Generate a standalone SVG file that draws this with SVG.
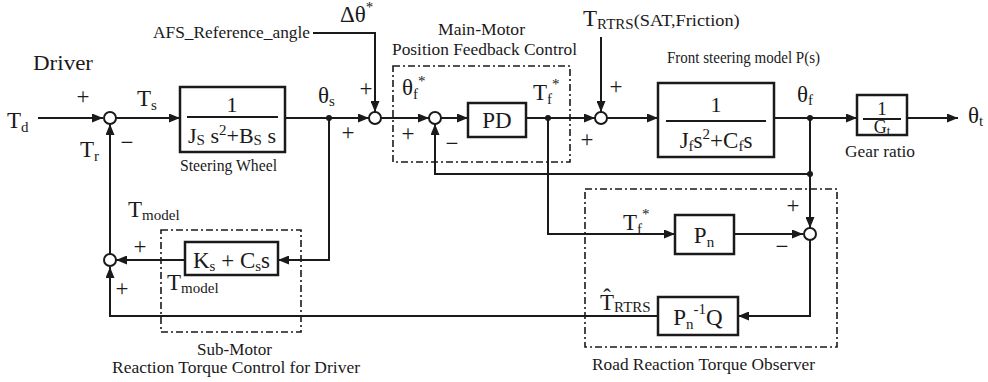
<svg xmlns="http://www.w3.org/2000/svg" width="988" height="382" viewBox="0 0 988 382">
<defs>
<style>
.l{fill:none;stroke:#1a1a1a;stroke-width:2}
.b{fill:#fff;stroke:#1a1a1a;stroke-width:2.5}
.fl{stroke:#1a1a1a;stroke-width:1.8}
.j{fill:#fff;stroke:#1a1a1a;stroke-width:2}
.dot{fill:#1a1a1a}
.d{fill:none;stroke:#1a1a1a;stroke-width:1.6;stroke-dasharray:7 3 2 3}
text{font-family:"Liberation Serif","Times New Roman",serif;fill:#1a1a1a}
.v{font-size:23px}
.s{font-size:15px}
.c{font-size:17px}
.k{font-size:23px}
.m{text-anchor:middle}
</style>
<marker id="ah" markerUnits="userSpaceOnUse" markerWidth="11" markerHeight="9" refX="11" refY="4.5" orient="auto">
<path d="M0,0 L11,4.5 L0,9 z" fill="#1a1a1a"/>
</marker>
</defs>
<rect width="988" height="382" fill="#fff"/>

<g id="connectors">
<path class="l" d="M38,118 H103" marker-end="url(#ah)"/>
<path class="l" d="M116,118 H180" marker-end="url(#ah)"/>
<path class="l" d="M285,118 H369" marker-end="url(#ah)"/>
<path class="l" d="M313,33 H375 V112" marker-end="url(#ah)"/>
<path class="l" d="M381,118 H429" marker-end="url(#ah)"/>
<path class="l" d="M441,118 H468" marker-end="url(#ah)"/>
<path class="l" d="M526,118 H595" marker-end="url(#ah)"/>
<path class="l" d="M601,37 V112" marker-end="url(#ah)"/>
<path class="l" d="M607,118 H658" marker-end="url(#ah)"/>
<path class="l" d="M774,118 H857" marker-end="url(#ah)"/>
<path class="l" d="M907,118 H958" marker-end="url(#ah)"/>
<path class="l" d="M810,118 V174 H435 V124" marker-end="url(#ah)"/>
<path class="l" d="M810,174 V228" marker-end="url(#ah)"/>
<path class="l" d="M548,118 V234 H675" marker-end="url(#ah)"/>
<path class="l" d="M734,234 H803" marker-end="url(#ah)"/>
<path class="l" d="M810,240 V316 H738" marker-end="url(#ah)"/>
<path class="l" d="M658,316 H110 V267" marker-end="url(#ah)"/>
<path class="l" d="M329,118 V260 H278" marker-end="url(#ah)"/>
<path class="l" d="M185,260 H116" marker-end="url(#ah)"/>
<path class="l" d="M110,254 V124" marker-end="url(#ah)"/>
<circle class="dot" cx="329" cy="118" r="3"/>
<circle class="dot" cx="548" cy="118" r="3"/>
<circle class="dot" cx="810" cy="118" r="3"/>
<circle class="dot" cx="810" cy="174" r="3"/>
</g>

<g id="labels">
<text x="33" y="70" font-size="21" textLength="60" lengthAdjust="spacingAndGlyphs">Driver</text>
<text class="v" x="7" y="128">T<tspan class="s" dy="4">d</tspan></text>
<text class="k m" x="83" y="104">+</text>
<text class="k m" x="127" y="150">−</text>
<text class="v" x="80" y="157">T<tspan class="s" dy="4">r</tspan></text>
<text class="v" x="137" y="106">T<tspan class="s" dy="4">s</tspan></text>
<text class="v" x="318" y="103">θ<tspan class="s" dy="3">s</tspan></text>
<text class="c" x="153" y="38" textLength="157" lengthAdjust="spacingAndGlyphs">AFS_Reference_angle</text>
<text class="v" x="340" y="22">Δθ<tspan class="s" dy="-10">*</tspan></text>
<text class="k m" x="366" y="96">+</text>
<text class="k m" x="348" y="140">+</text>
<text class="v" x="583" y="26">T<tspan class="s" dy="3">RTRS</tspan><tspan class="c" dy="-3" textLength="106" lengthAdjust="spacingAndGlyphs">(SAT,Friction)</tspan></text>
<text class="k m" x="616" y="94">+</text>
<text class="k m" x="587" y="147">+</text>
<text class="v" x="797" y="102">θ<tspan class="s" dy="3">f</tspan></text>
<text class="v" x="968" y="123">θ<tspan class="s" dy="3">t</tspan></text>
<text class="v" x="128" y="217">T<tspan class="s" dy="3">model</tspan></text>
<text class="k m" x="140" y="254">+</text>
<text class="k m" x="122" y="296">+</text>
<text class="v" x="623" y="230">T<tspan class="s" dy="4">f</tspan><tspan class="s" dy="-15">*</tspan></text>
<text class="k m" x="793" y="213">+</text>
<text class="k m" x="782" y="254">−</text>
<text class="v" x="600" y="310">T&#x0302;<tspan class="s" dy="2">RTRS</tspan></text>
</g>

<g id="steering_wheel">
<rect class="b" x="180" y="87" width="105" height="65"/>
<line class="fl" x1="187" y1="117" x2="278" y2="117"/>
<text class="m" x="232" y="112" font-size="22">1</text>
<text class="m" x="232" y="143" font-size="22">J<tspan class="s" dy="2">S</tspan><tspan dy="-2"> s</tspan><tspan class="s" dy="-8">2</tspan><tspan dy="8">+B</tspan><tspan class="s" dy="2">S</tspan><tspan dy="-2"> s</tspan></text>
<text x="180" y="171" font-size="16" textLength="97" lengthAdjust="spacingAndGlyphs">Steering Wheel</text>
</g>

<g id="sum1"><circle class="j" cx="110" cy="118" r="6"/></g>
<g id="sum2"><circle class="j" cx="375" cy="118" r="6"/></g>
<g id="sum3"><circle class="j" cx="435" cy="118" r="6"/></g>
<g id="sum4"><circle class="j" cx="601" cy="118" r="6"/></g>
<g id="sum5"><circle class="j" cx="810" cy="234" r="6"/></g>
<g id="sum6"><circle class="j" cx="110" cy="260" r="6"/></g>

<g id="main_motor">
<rect class="d" x="393" y="66" width="177" height="96"/>
<text class="c" x="438" y="35" textLength="87" lengthAdjust="spacingAndGlyphs">Main-Motor</text>
<text class="c" x="392" y="55" textLength="185" lengthAdjust="spacingAndGlyphs">Position Feedback Control</text>
<text class="v" x="402" y="95">θ<tspan class="s" dy="4">f</tspan><tspan class="s" dy="-13">*</tspan></text>
<text class="k m" x="408" y="141">+</text>
<text class="k m" x="452" y="151">−</text>
<text class="v" x="533" y="100">T<tspan class="s" dy="4">f</tspan><tspan class="s" dy="-15">*</tspan></text>
</g>

<g id="pd">
<rect class="b" x="468" y="103" width="58" height="34"/>
<text class="m" x="497" y="128" font-size="23">PD</text>
</g>

<g id="front_steering">
<rect class="b" x="658" y="83" width="116" height="74"/>
<line class="fl" x1="666" y1="121" x2="766" y2="121"/>
<text class="m" x="716" y="112" font-size="22">1</text>
<text class="m" x="716" y="148" font-size="23">J<tspan class="s" dy="3">f</tspan><tspan dy="-3">s</tspan><tspan class="s" dy="-9">2</tspan><tspan dy="9">+C</tspan><tspan class="s" dy="3">f</tspan><tspan dy="-3">s</tspan></text>
<text class="c" x="667" y="63" textLength="153" lengthAdjust="spacingAndGlyphs">Front steering model P(s)</text>
</g>

<g id="gear_ratio">
<rect class="b" x="857" y="95" width="50" height="40"/>
<line class="fl" x1="863" y1="119" x2="901" y2="119"/>
<text class="m" x="882" y="115" font-size="19">1</text>
<text class="m" x="882" y="133" font-size="18">G<tspan font-size="13" dy="2">t</tspan></text>
<text x="845" y="157" font-size="17" textLength="70" lengthAdjust="spacingAndGlyphs">Gear ratio</text>
</g>

<g id="sub_motor">
<rect class="d" x="161" y="230" width="140" height="102"/>
<rect class="b" x="185" y="242" width="93" height="33"/>
<text x="193" y="268" font-size="23" textLength="77" lengthAdjust="spacingAndGlyphs">K<tspan class="s" dy="3">s</tspan><tspan dy="-3"> + C</tspan><tspan class="s" dy="3">s</tspan><tspan dy="-3">s</tspan></text>
<text class="v" x="167" y="290">T<tspan class="s" dy="3">model</tspan></text>
<text x="197" y="355" font-size="17" textLength="75" lengthAdjust="spacingAndGlyphs">Sub-Motor</text>
<text x="112" y="373" font-size="17" textLength="248" lengthAdjust="spacingAndGlyphs">Reaction Torque Control for Driver</text>
</g>

<g id="observer">
<rect class="d" x="585" y="189" width="252" height="158"/>
<rect class="b" x="675" y="215" width="59" height="39"/>
<text class="m" x="704" y="243" font-size="23">P<tspan class="s" dy="4">n</tspan></text>
<rect class="b" x="658" y="297" width="80" height="38"/>
<text class="m" x="698" y="325" font-size="23">P<tspan class="s" dy="4">n</tspan><tspan class="s" dy="-15">-1</tspan><tspan dy="11">Q</tspan></text>
<text x="592" y="370" font-size="17" textLength="223" lengthAdjust="spacingAndGlyphs">Road Reaction Torque Observer</text>
</g>
</svg>
